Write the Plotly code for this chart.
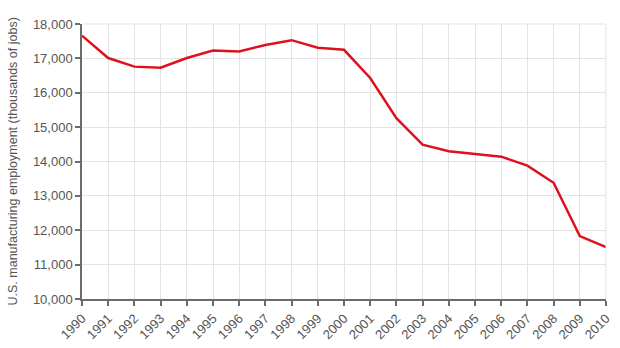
import plotly.graph_objects as go

years = [str(y) for y in range(1990, 2011)]
employment = [17660, 17010, 16760, 16730, 17010, 17230, 17200, 17390, 17530, 17310,
              17250, 16430, 15260, 14490, 14300, 14220, 14140, 13880, 13380, 11830, 11510]
y_ticks = [10000, 11000, 12000, 13000, 14000, 15000, 16000, 17000, 18000]
y_tick_labels = ["10,000", "11,000", "12,000", "13,000", "14,000", "15,000", "16,000", "17,000", "18,000"]
y_title = "U.S. manufacturing employment (thousands of jobs)"

W, H = 620, 348
L, R, T, B = 82, 14, 24, 49

fig = go.Figure()
fig.add_trace(go.Scatter(x=list(range(len(years))), y=employment, mode="lines",
                         line=dict(color="#dd121e", width=2.5), hoverinfo="skip"))

fig.update_layout(
    width=W, height=H,
    margin=dict(l=L, r=R, t=T, b=B, autoexpand=False),
    paper_bgcolor="white", plot_bgcolor="white",
    showlegend=False,
    font=dict(family="Liberation Sans, Arial, sans-serif", color="#555555", size=13),
)
fig.update_xaxes(
    range=[0, len(years) - 1],
    tickmode="array", tickvals=list(range(len(years))), ticktext=years,
    tickangle=-45, tickfont=dict(size=13, color="#555555"),
    showgrid=True, gridcolor="#e3e3e3", gridwidth=1,
    showline=True, linecolor="#6b6b6b", linewidth=1.5,
    ticks="outside", ticklen=5, tickcolor="#6b6b6b", tickwidth=1.5,
    zeroline=False, automargin=False,
)
fig.update_yaxes(
    range=[10000, 18000],
    tickmode="array", tickvals=y_ticks, ticktext=y_tick_labels,
    tickfont=dict(size=13, color="#555555"),
    showgrid=True, gridcolor="#e3e3e3", gridwidth=1,
    showline=True, linecolor="#6b6b6b", linewidth=1.5,
    ticks="outside", ticklen=5, tickcolor="#6b6b6b", tickwidth=1.5,
    zeroline=False, automargin=False,
)
fig.add_annotation(text=y_title, xref="paper", yref="paper",
                   x=(12 - L) / (W - L - R), y=0.5, xanchor="center", yanchor="middle",
                   textangle=-90, showarrow=False,
                   font=dict(size=12.5, color="#555555"))
# right and top gridline borders
fig.add_shape(type="line", xref="paper", yref="paper", x0=1, x1=1, y0=0, y1=1,
              line=dict(color="#e3e3e3", width=1))
fig.add_shape(type="line", xref="paper", yref="paper", x0=0, x1=1, y0=1, y1=1,
              line=dict(color="#e3e3e3", width=1))

fig.write_html("out.html",
               config={"displayModeBar": False},
               post_script="document.body.style.margin='0';document.body.style.overflow='hidden';")
